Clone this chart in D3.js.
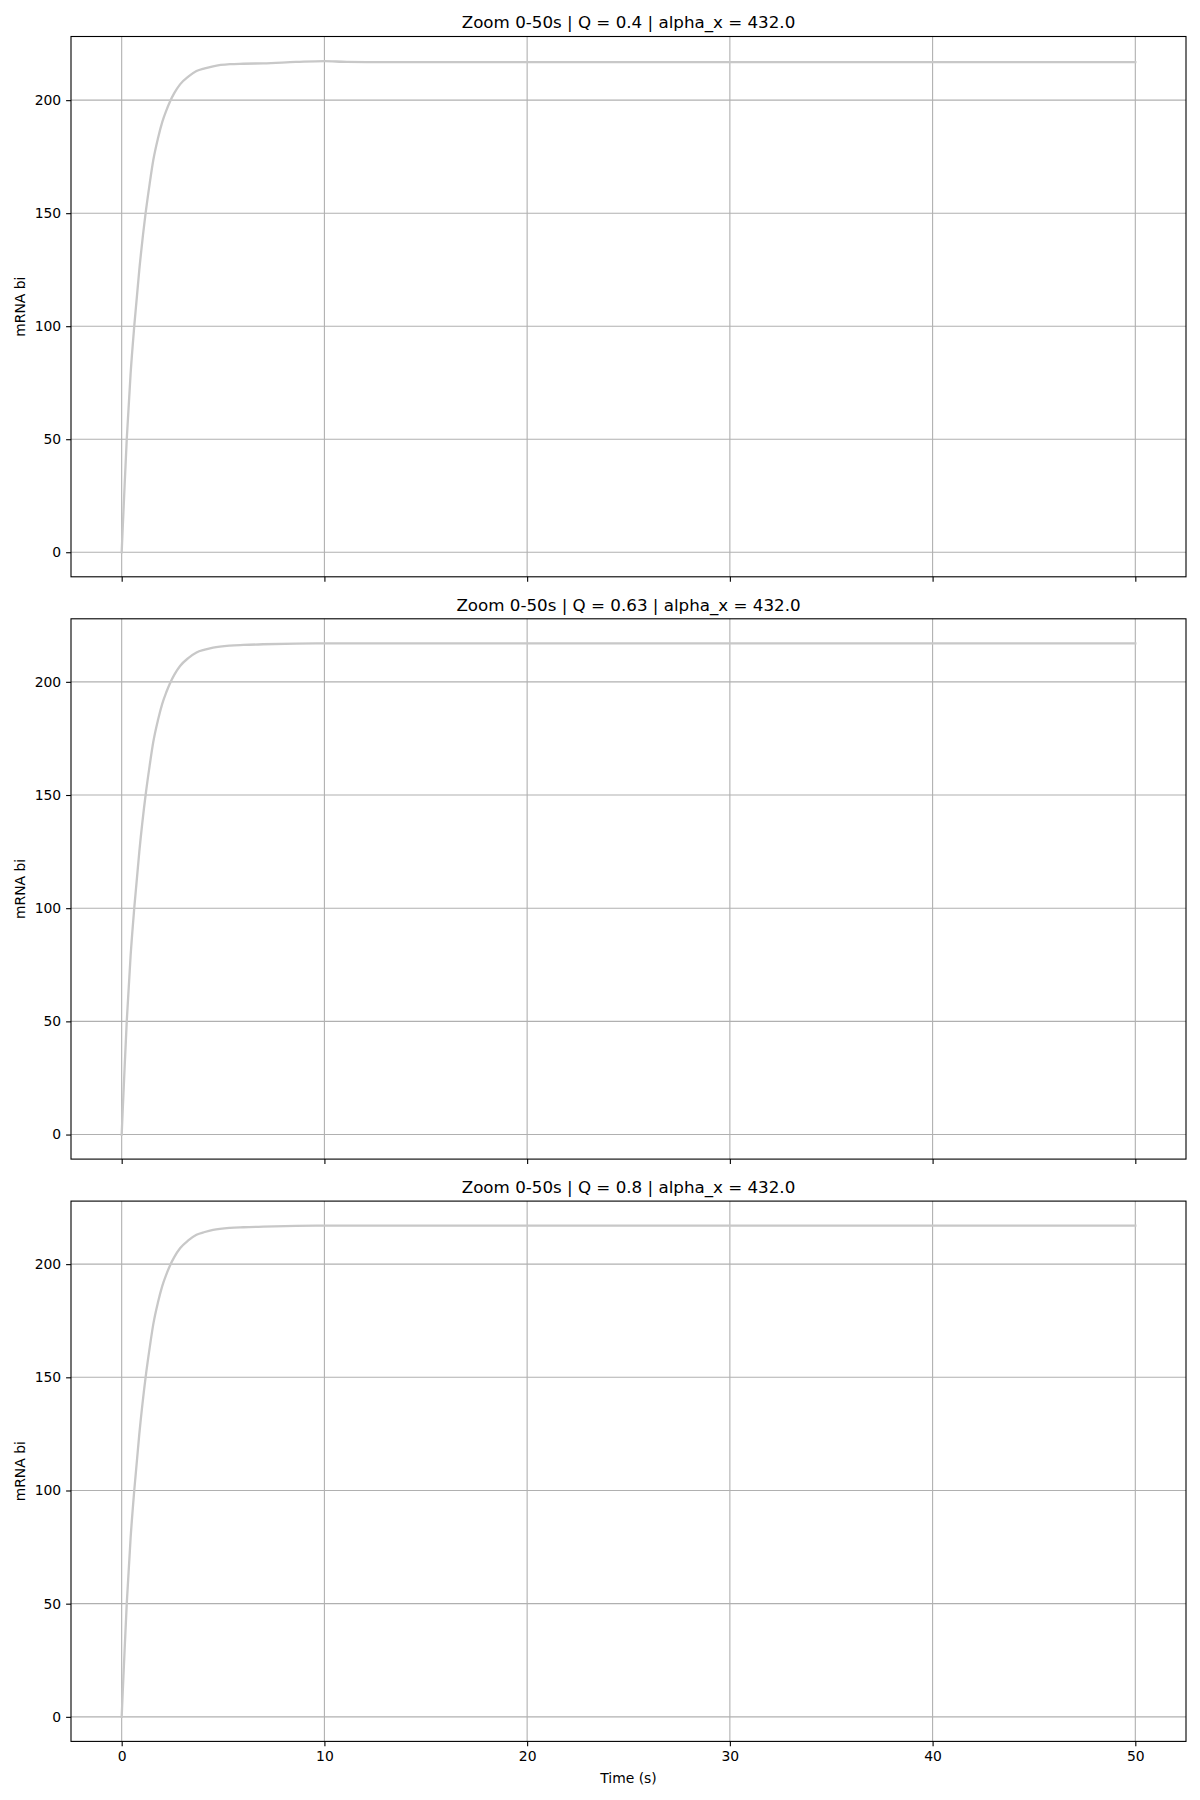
<!DOCTYPE html>
<html>
<head>
<meta charset="utf-8">
<script src="https://cdn.jsdelivr.net/npm/d3@7"></script>
<style>
  html, body { margin: 0; padding: 0; background: #ffffff; }
  svg { display: block; font-family: "DejaVu Sans", sans-serif; }
</style>
</head>
<body>
<svg id="chart" width="1200" height="1800"></svg>
<script>
// ---- Data ----
const titles = [
  "Zoom 0-50s | Q = 0.4 | alpha_x = 432.0",
  "Zoom 0-50s | Q = 0.63 | alpha_x = 432.0",
  "Zoom 0-50s | Q = 0.8 | alpha_x = 432.0"
];
const timePoints = [0, 0.05, 0.1, 0.25, 0.44, 0.62, 0.87, 1.18, 1.38, 1.56, 1.8, 2.0, 2.2, 2.38, 2.6, 2.88, 3.3, 3.69, 4.1, 4.51, 5.34, 6.0, 6.98, 8.6, 10, 11.1, 13.5, 20, 30, 40, 50];
const mrnaQ04  = [0, 10.5, 20.5, 50, 79, 100, 125, 150, 163, 173.5, 183.5, 190.3, 195.4, 199.3, 203.2, 207, 210.5, 212.9, 214.1, 215.0, 215.9, 216.1, 216.3, 216.9, 217.3, 216.9, 216.8, 216.8, 216.8, 216.8, 216.8];
const mrnaQ063 = [0, 10.5, 20.5, 50, 79, 100, 125, 150, 163, 173.5, 183.5, 190.3, 195.4, 199.3, 203.2, 207, 210.6, 213.0, 214.2, 215.1, 216.0, 216.3, 216.6, 216.9, 217.0, 217.0, 217.0, 217.0, 217.0, 217.0, 217.0];
const mrnaQ08  = [0, 10.5, 20.5, 50, 79, 100, 125, 150, 163, 173.5, 183.5, 190.3, 195.4, 199.3, 203.2, 207, 210.6, 213.0, 214.2, 215.1, 216.0, 216.3, 216.6, 216.9, 217.0, 217.0, 217.0, 217.0, 217.0, 217.0, 217.0];
const seriesList = [mrnaQ04, mrnaQ063, mrnaQ08];
const xTicks = [0, 10, 20, 30, 40, 50];
const yTicks = [0, 50, 100, 150, 200];
const xLabel = "Time (s)";
const yLabel = "mRNA bi";

// ---- Layout ----
const svg = d3.select("#chart");
const left = 71, right = 1186;
const panelTops = [36.5, 618.8, 1201.1];
const panelH = 540.3;
const tickLen = 4.9, tickPad = 4.9;
const gridColor = "#b0b0b0";
const lineColor = "#c8c8c8";

const x = d3.scaleLinear().domain([-2.5, 52.5]).range([left, right]);

seriesList.forEach((vals, i) => {
  const top = panelTops[i];
  const bottom = top + panelH;
  const yMax = d3.max(vals), yMin = d3.min(vals);
  const pad = 0.05 * (yMax - yMin);
  const y = d3.scaleLinear().domain([yMin - pad, yMax + pad]).range([bottom, top]);

  const g = svg.append("g");

  // grid
  g.append("g").selectAll("line.gx").data(xTicks).join("line")
    .attr("x1", d => x(d)).attr("x2", d => x(d))
    .attr("y1", top).attr("y2", bottom)
    .attr("stroke", gridColor).attr("stroke-width", 1.1);
  g.append("g").selectAll("line.gy").data(yTicks).join("line")
    .attr("y1", d => y(d)).attr("y2", d => y(d))
    .attr("x1", left).attr("x2", right)
    .attr("stroke", gridColor).attr("stroke-width", 1.1);

  // data line
  const data = timePoints.map((t, k) => [t, vals[k]]);
  g.append("path")
    .datum(data)
    .attr("fill", "none")
    .attr("stroke", lineColor)
    .attr("stroke-width", 2.3)
    .attr("stroke-linejoin", "round")
    .attr("stroke-linecap", "square")
    .attr("d", d3.line().x(d => x(d[0])).y(d => y(d[1])).curve(d3.curveMonotoneX));

  // x axis
  const xAxis = d3.axisBottom(x).tickValues(xTicks).tickSize(tickLen).tickPadding(tickPad);
  if (i < 2) xAxis.tickFormat("");
  const xa = g.append("g").attr("transform", `translate(0,${bottom})`).call(xAxis);
  xa.select(".domain").remove();
  xa.selectAll(".tick line").attr("stroke", "#000").attr("stroke-width", 1.1);
  xa.selectAll(".tick text").attr("font-size", 13.9).attr("fill", "#000")
    .attr("font-family", "DejaVu Sans, sans-serif").attr("dy", "0.72em");

  // y axis
  const yAxis = d3.axisLeft(y).tickValues(yTicks).tickSize(tickLen).tickPadding(tickPad);
  const ya = g.append("g").attr("transform", `translate(${left},0)`).call(yAxis);
  ya.select(".domain").remove();
  ya.selectAll(".tick line").attr("stroke", "#000").attr("stroke-width", 1.1);
  ya.selectAll(".tick text").attr("font-size", 13.9).attr("fill", "#000")
    .attr("font-family", "DejaVu Sans, sans-serif");

  // frame
  g.append("rect")
    .attr("x", left).attr("y", top)
    .attr("width", right - left).attr("height", panelH)
    .attr("fill", "none").attr("stroke", "#000").attr("stroke-width", 1.1);

  // title
  g.append("text")
    .attr("x", (left + right) / 2).attr("y", top - 8.3)
    .attr("text-anchor", "middle")
    .attr("font-size", 16.7).attr("fill", "#000")
    .text(titles[i]);

  // y label
  g.append("text")
    .attr("transform", `translate(25,${(top + bottom) / 2}) rotate(-90)`)
    .attr("text-anchor", "middle")
    .attr("font-size", 13.9).attr("fill", "#000")
    .text(yLabel);

  if (i === 2) {
    g.append("text")
      .attr("x", (left + right) / 2).attr("y", 1783)
      .attr("text-anchor", "middle")
      .attr("font-size", 13.9).attr("fill", "#000")
      .text(xLabel);
  }
});
</script>
</body>
</html>
